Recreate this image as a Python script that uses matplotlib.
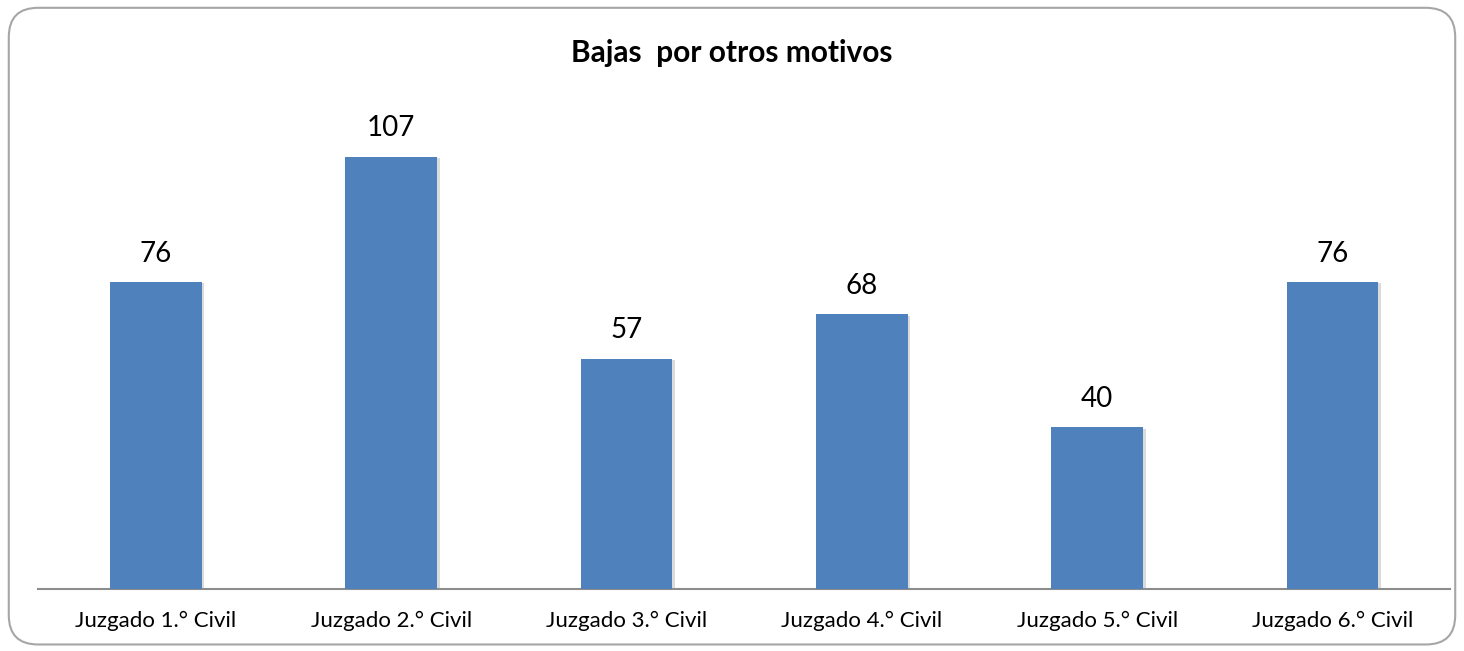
import matplotlib
matplotlib.use("Agg")
import matplotlib.pyplot as plt
from matplotlib.patches import FancyBboxPatch
import matplotlib.patheffects as pe

categories = ["Juzgado 1.° Civil", "Juzgado 2.° Civil", "Juzgado 3.° Civil",
              "Juzgado 4.° Civil", "Juzgado 5.° Civil", "Juzgado 6.° Civil"]
values = [76, 107, 57, 68, 40, 76]
title = "Bajas  por otros motivos"

plt.rcParams['font.family'] = ['Lato', 'DejaVu Sans']

fig = plt.figure(figsize=(14.64, 6.51), dpi=100)
border = FancyBboxPatch((0.006, 0.01), 0.988, 0.978,
                        boxstyle="round,pad=0,rounding_size=0.02",
                        transform=fig.transFigure, facecolor="none",
                        edgecolor="#A6A6A6", linewidth=1.5, mutation_aspect=2.25,
                        zorder=-1)
fig.patches.append(border)

ax = fig.add_axes([0.026, 0.0952, 0.9645, 0.745])
ax.set_facecolor("none")
x = list(range(len(categories)))
bars = ax.bar(x, values, width=0.39, color="#4F81BD", zorder=3)
for b in bars:
    b.set_path_effects([pe.SimplePatchShadow(offset=(2, -1), shadow_rgbFace="#999999", alpha=0.35), pe.Normal()])
ax.bar_label(bars, labels=[str(v) for v in values], padding=11, fontsize=20)

ax.set_xlim(-0.5, len(categories) - 0.5)
ax.set_ylim(0, 120)
ax.set_xticks(x)
ax.set_xticklabels(categories, fontsize=16)
ax.tick_params(axis='x', length=0, pad=16)
ax.set_yticks([])
for s in ["top", "right", "left"]:
    ax.spines[s].set_visible(False)
ax.spines["bottom"].set_color("#8C8C8C")
ax.spines["bottom"].set_linewidth(1.5)

fig.text(0.5, 0.918, title, ha="center", va="center", fontsize=21.5, fontweight="bold")

fig.savefig("out.png", dpi=100)
